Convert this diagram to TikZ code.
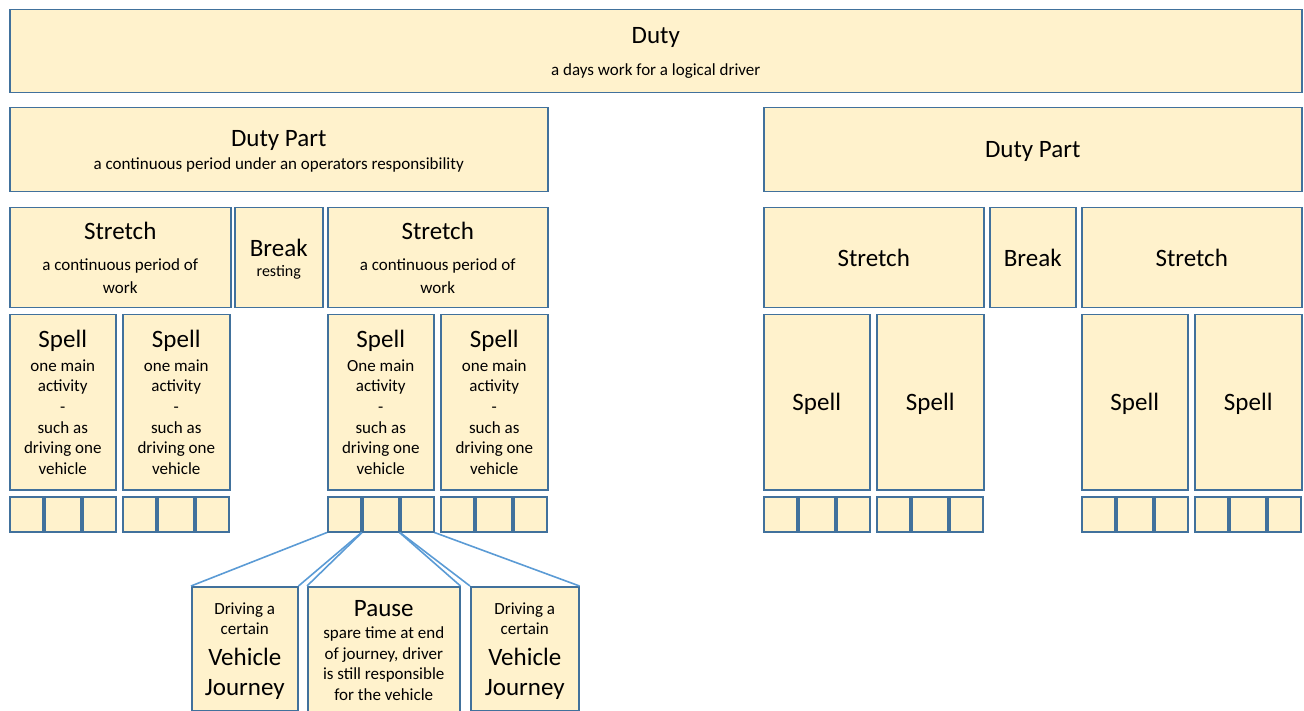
\documentclass[tikz,border=0pt]{standalone}
\usepackage{fontspec}
\setmainfont{Carlito}

\definecolor{boxfill}{HTML}{FFF2CC}
\definecolor{boxline}{HTML}{41719C}
\definecolor{linkline}{HTML}{5B9BD5}

\newcommand\ttl{\fontsize{25}{30}\selectfont}
\newcommand\sub{\fontsize{17}{20.7}\selectfont}
\newcommand\restfont{\fontsize{16}{19}\selectfont}

\tikzset{
  box/.style={draw=boxline, fill=boxfill, line width=1.5pt, inner sep=0pt,
    align=center, anchor=north west, font=\sub, text depth=0pt},
  link/.style={draw=linkline, line width=1.6pt},
}

\begin{document}
\begin{tikzpicture}[x=1pt, y=-1pt]
    \useasboundingbox (0,0) rectangle (1304,711);

    % Duty
    \node[box, minimum width=1292pt, minimum height=83pt] (duty) at (9,9)
        {{\ttl Duty}\\[11pt]a days work for a logical driver};

    % Duty parts
    \node[box, minimum width=538pt, minimum height=84pt] (partL) at (9,107)
        {{\ttl Duty Part}\\[2pt]a continuous period under an operators responsibility};
    \node[box, minimum width=538pt, minimum height=84pt] (partR) at (763,107) {\ttl Duty Part};

    % Stretches and breaks, left part
    \node[box, minimum width=221pt, minimum height=100pt] (stretchLa) at (9,207)
        {{\ttl Stretch}\\[11pt]a continuous period of\\[2pt]work};
    \node[box, minimum width=88pt, minimum height=100pt] (breakL) at (234,207)
        {{\ttl Break}\\[0pt]{\restfont resting}};
    \node[box, minimum width=220pt, minimum height=100pt] (stretchLb) at (327,207)
        {{\ttl Stretch}\\[11pt]a continuous period of\\[2pt]work};

    % Stretches and breaks, right part
    \node[box, minimum width=220pt, minimum height=100pt] (stretchRa) at (763,207) {\ttl Stretch};
    \node[box, minimum width=86pt, minimum height=100pt] (breakR) at (989,207) {\ttl Break};
    \node[box, minimum width=220pt, minimum height=100pt] (stretchRb) at (1081,207) {\ttl Stretch};

    % Spells
    \node[box, minimum width=106pt, minimum height=175pt] (spell1) at (9,314)
        {{\ttl Spell}\\[3pt]one main\\activity\\-\\such as\\driving one\\vehicle};
    \node[box, minimum width=107pt, minimum height=175pt] (spell2) at (122,314)
        {{\ttl Spell}\\[3pt]one main\\activity\\-\\such as\\driving one\\vehicle};
    \node[box, minimum width=106pt, minimum height=175pt] (spell3) at (327,314)
        {{\ttl Spell}\\[3pt]One main\\activity\\-\\such as\\driving one\\vehicle};
    \node[box, minimum width=107pt, minimum height=175pt] (spell4) at (440,314)
        {{\ttl Spell}\\[3pt]one main\\activity\\-\\such as\\driving one\\vehicle};
    \node[box, minimum width=106pt, minimum height=175pt] (spell5) at (763,314) {\ttl Spell};
    \node[box, minimum width=107pt, minimum height=175pt] (spell6) at (876,314) {\ttl Spell};
    \node[box, minimum width=106pt, minimum height=175pt] (spell7) at (1081,314) {\ttl Spell};
    \node[box, minimum width=107pt, minimum height=175pt] (spell8) at (1194,314) {\ttl Spell};

    % Journeys under each spell
    \foreach \g/\x in {1/9, 2/122, 3/327, 4/440, 5/763, 6/876, 7/1081, 8/1194}
        \foreach \i/\a/\w in {1/0/33, 2/35/36, 3/73/33}
            \node[box, minimum width=\w pt, minimum height=35pt] (sb-\g-\i) at (\x+\a,496) {};

    % Detail of the third spell
    \node[box, minimum width=106pt, minimum height=124pt] (vj1) at (191,586)
        {Driving a\\certain\\[10pt]{\ttl Vehicle}\\[9pt]{\ttl Journey}};
    \node[box, minimum width=152pt, minimum height=128pt] (pause) at (307,586)
        {{\ttl Pause}\\[1pt]spare time at end\\of journey, driver\\is still responsible\\for the vehicle};
    \node[box, minimum width=108pt, minimum height=124pt] (vj2) at (470,586)
        {Driving a\\certain\\[10pt]{\ttl Vehicle}\\[9pt]{\ttl Journey}};

    % Links
    \draw[link] (sb-3-1.south west) -- (vj1.north west);
    \draw[link] (sb-3-1.south east) -- (vj1.north east);
    \draw[link] (sb-3-2.south west) -- (pause.north west);
    \draw[link] (sb-3-2.south east) -- (pause.north east);
    \draw[link] (sb-3-3.south west) -- (vj2.north west);
    \draw[link] (sb-3-3.south east) -- (vj2.north east);

\end{tikzpicture}
\end{document}
